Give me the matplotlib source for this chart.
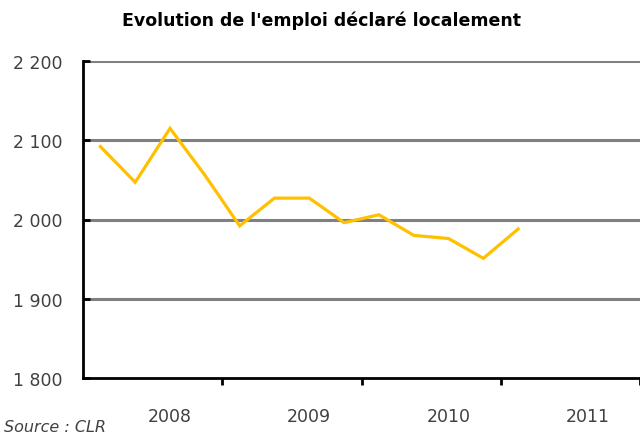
import matplotlib
matplotlib.use("Agg")
import matplotlib.pyplot as plt

quarters = ["2008T1", "2008T2", "2008T3", "2008T4",
            "2009T1", "2009T2", "2009T3", "2009T4",
            "2010T1", "2010T2", "2010T3", "2010T4",
            "2011T1"]
emploi = [2092, 2047, 2115, 2056, 1992, 2027, 2027, 1996, 2006, 1980, 1976, 1951, 1988]
years = ["2008", "2009", "2010", "2011"]
y_ticks = [1800, 1900, 2000, 2100, 2200]
y_labels = ["1 800", "1 900", "2 000", "2 100", "2 200"]

fig = plt.figure(figsize=(6.4, 4.39), dpi=100)
ax = fig.add_axes([83 / 640, 1 - 379 / 439, 1 - 83 / 640, (379 - 62) / 439])

x = list(range(len(emploi)))
ax.plot(x, emploi, color="#FFC000", lw=2.3, solid_joinstyle="miter", zorder=3)

ax.set_ylim(1800, 2200)
ax.set_xlim(-0.5, 15.29)

for v in y_ticks[1:]:
    ax.axhline(v, color="#808080", lw=2.2, zorder=1)

ax.set_yticks(y_ticks)
ax.set_yticklabels(y_labels)
ax.tick_params(axis="y", direction="in", length=5, width=2, color="black",
               pad=15, labelsize=12.5, labelcolor="#404040")

n_years = len(years)
ax.set_xticks([4 * i + 3.5 for i in range(n_years)])
ax.set_xticklabels([])
ax.set_xticks([4 * i + 2 for i in range(n_years)], minor=True)
ax.set_xticklabels(years, minor=True)
ax.tick_params(axis="x", which="major", direction="out", length=5, width=2, color="black")
ax.tick_params(axis="x", which="minor", length=0, pad=21, labelsize=12.5, labelcolor="#404040")

for s in ["top", "right"]:
    ax.spines[s].set_visible(False)
for s in ["left", "bottom"]:
    ax.spines[s].set_linewidth(2)
    ax.spines[s].set_color("black")

fig.text(0.503, 0.953, "Evolution de l'emploi déclaré localement", ha="center", va="center",
         fontsize=12.5, fontweight="bold", color="black")
fig.text(0.006, 0.008, "Source : CLR", ha="left", va="bottom", fontsize=11.5,
         style="italic", color="#404040")

fig.savefig("out.png", dpi=100)
